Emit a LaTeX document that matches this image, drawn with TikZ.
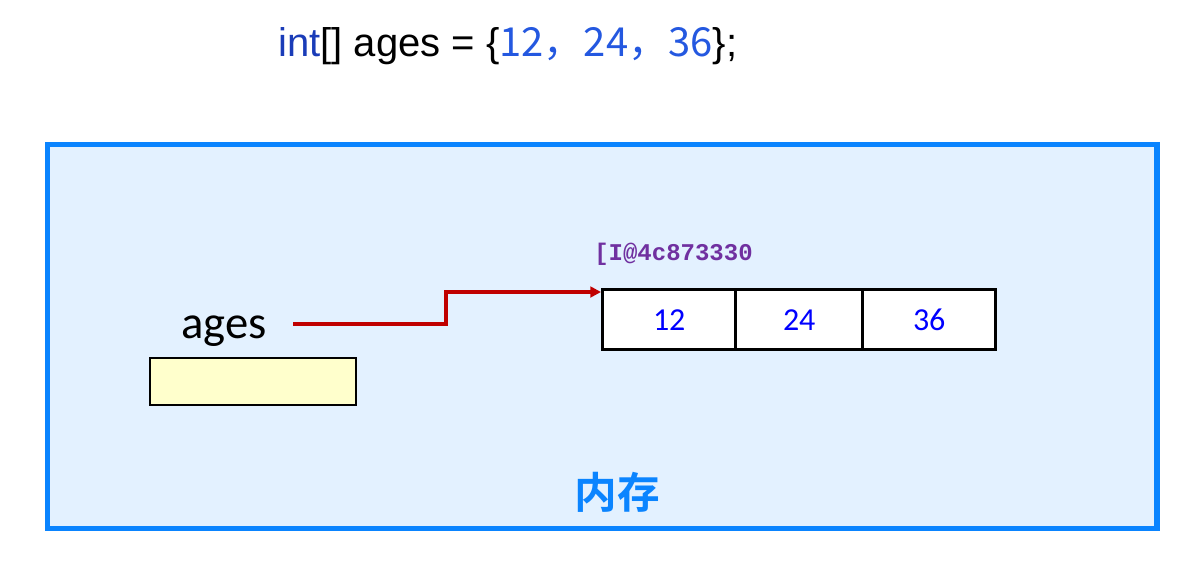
\documentclass[tikz,border=0pt]{standalone}
\usepackage{fontspec}
\setmainfont{Liberation Sans}
\newfontfamily\cjk{Noto Sans CJK SC}
\newfontfamily\cjkb{Noto Sans CJK SC Bold}
\newfontfamily\calib{Carlito}
\newfontfamily\monob{Liberation Mono}
\definecolor{memblue}{HTML}{0A84FF}
\definecolor{memfill}{HTML}{E3F1FF}
\definecolor{intblue}{HTML}{1A3CB8}
\definecolor{numblue}{HTML}{2458E0}
\definecolor{addr}{HTML}{7030A0}
\definecolor{refred}{HTML}{C00000}
\definecolor{cellblue}{HTML}{0000FF}
\definecolor{varfill}{HTML}{FFFFCC}
\usetikzlibrary{arrows.meta}
\begin{document}
\begin{tikzpicture}[x=0.75pt,y=-0.75pt,
  cell/.style={draw=black,line width=2.6pt,fill=white,minimum height=45pt,inner sep=0pt,anchor=north west,font=\calib\fontsize{24}{26}\selectfont,text=cellblue},
  ref/.style={draw=refred,line width=2.8pt,-{Triangle[length=8pt,width=8pt]}}]
\useasboundingbox (0,0) rectangle (1200,568);
\node[anchor=base west,inner sep=0pt,font=\fontsize{30}{32}\selectfont] (code) at (278,56)
  {\textcolor{intblue}{int}[] ages = \{\textcolor{numblue}{\cjk 12，24，36}\};};
\node[draw=memblue,line width=4pt,fill=memfill,minimum width=832pt,minimum height=288pt,inner sep=0pt,anchor=north west] (mem) at (45,142) {};
\node[anchor=base,inner sep=0pt,font=\cjkb\fontsize{32}{34}\selectfont,text=memblue] (memlbl) at (617,508) {内存};
\node[anchor=base west,inner sep=0pt,font=\monob\bfseries\fontsize{18}{20}\selectfont,text=addr] (addrlbl) at (594,260) {[I@4c873330};
\node[cell,minimum width=99.75pt] (c1) at (601,288) {12};
\node[cell,minimum width=95.25pt] (c2) at (734,288) {24};
\node[cell,minimum width=99.75pt] (c3) at (861,288) {36};
\node[anchor=base west,inner sep=0pt,font=\calib\fontsize{35}{37}\selectfont] (var) at (181,338) {ages};
\node[draw=black,line width=1.2pt,fill=varfill,minimum width=154.5pt,minimum height=35.25pt,inner sep=0pt,anchor=north west] (box) at (149,357) {};
\coordinate (refstart) at (293,324);
\coordinate (refend) at (601,292);
\draw[ref] (refstart) -| (446,292) -- (refend);
\end{tikzpicture}
\end{document}
